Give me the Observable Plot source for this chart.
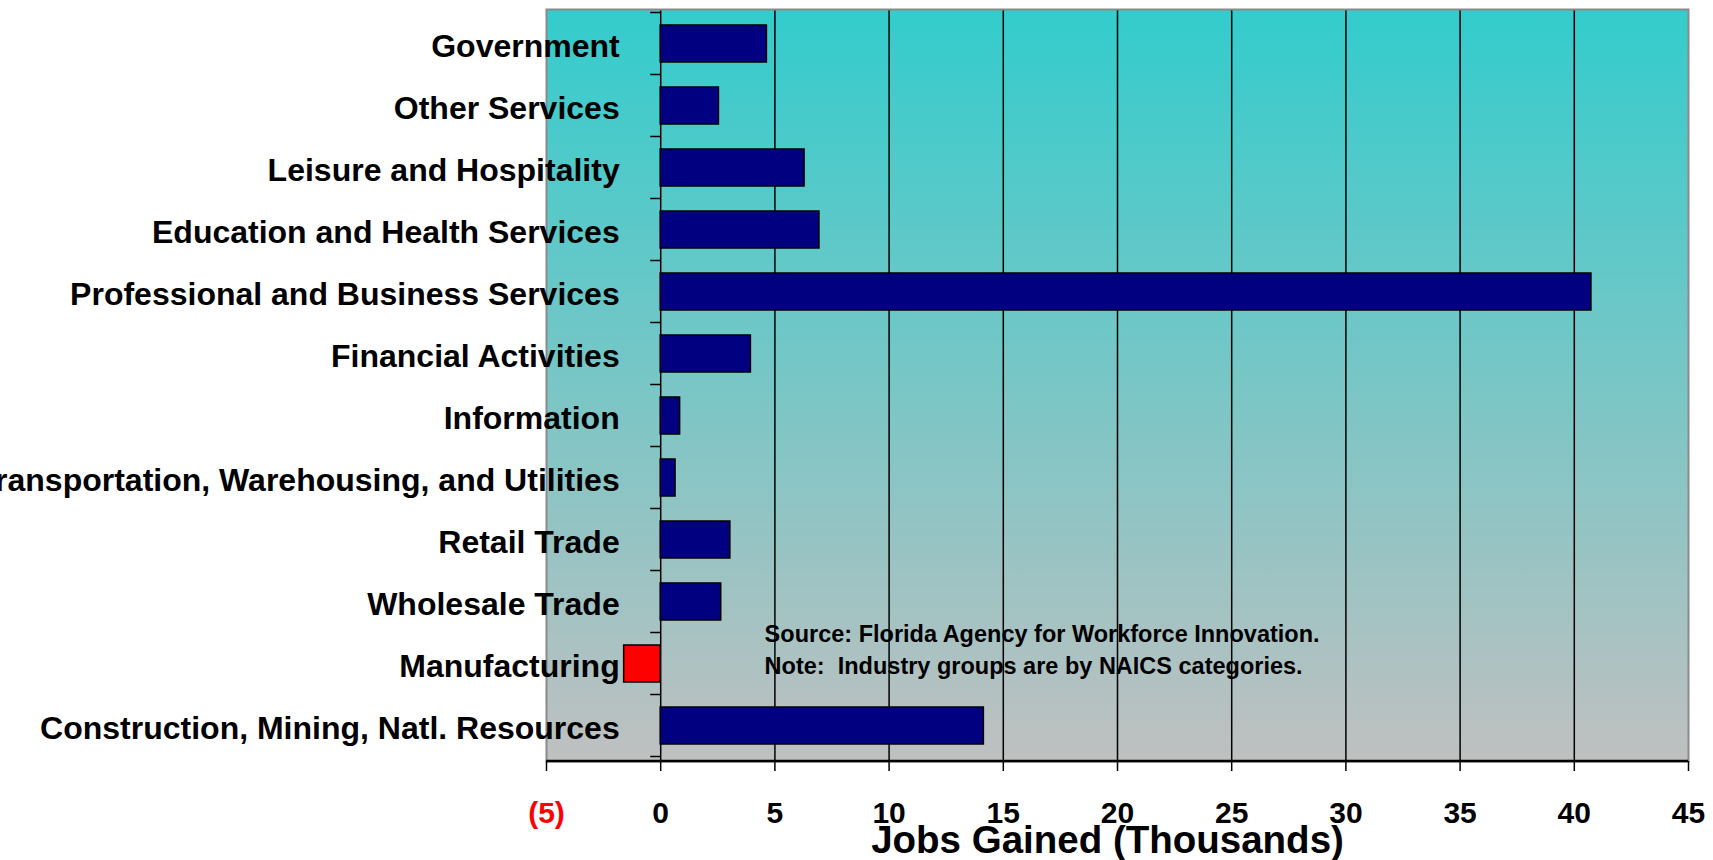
<!DOCTYPE html>
<html><head><meta charset="utf-8">
<script src="https://cdn.jsdelivr.net/npm/d3@7"></script>
<script src="https://cdn.jsdelivr.net/npm/@observablehq/plot@0.6"></script>
<style>body{margin:0;background:#fff;overflow:hidden} #chart svg{overflow:hidden}</style>
</head><body><div id="chart"></div>
<script>
const categories = ["Government","Other Services","Leisure and Hospitality","Education and Health Services","Professional and Business Services","Financial Activities","Information","Transportation, Warehousing, and Utilities","Retail Trade","Wholesale Trade","Manufacturing","Construction, Mining, Natl. Resources"];
const jobsGained = [4.65, 2.55, 6.3, 6.95, 40.75, 3.95, 0.85, 0.65, 3.05, 2.65, -1.6, 14.15];
const xTicks = [-5, 0, 5, 10, 15, 20, 25, 30, 35, 40, 45];
const gridValues = [5, 10, 15, 20, 25, 30, 35, 40];
const xLabel = "Jobs Gained (Thousands)";
const notes = ["Source: Florida Agency for Workforce Innovation.", "Note:  Industry groups are by NAICS categories."];
const noteAt = {x: 4.55, category: "Manufacturing"};

const data = categories.map((c, i) => ({category: c, value: jobsGained[i]}));

function num(v) { return typeof v === "function" ? v() : v; }

function boundaryTicks(index, scales, values, dimensions) {
  const y = scales.y, x = scales.x;
  const bw = num(y.bandwidth);
  const step = num(y.step);
  const gap = (step - bw) / 2;
  const g = d3.create("svg:g");
  const x0 = x(0);
  const ys = categories.map(c => y(c) - gap);
  ys.push(y(categories[categories.length - 1]) + bw + gap);
  g.selectAll("line").data(ys).join("line")
    .attr("x1", x0 - 10).attr("x2", x0)
    .attr("y1", d => d).attr("y2", d => d)
    .attr("stroke", "black").attr("stroke-width", 1.5);
  const yb = dimensions.height - dimensions.marginBottom;
  g.append("line")
    .attr("x1", x(xTicks[0])).attr("x2", x(xTicks[xTicks.length - 1]))
    .attr("y1", yb).attr("y2", yb)
    .attr("stroke", "black").attr("stroke-width", 2.5);
  return g.node();
}

const font = "'Liberation Sans', Arial, Helvetica, sans-serif";

const plot = Plot.plot({
  width: 1713, height: 860,
  marginLeft: 546, marginRight: 25, marginTop: 9, marginBottom: 99,
  style: {fontFamily: font, fontWeight: "bold", background: "white", overflow: "hidden"},
  x: {domain: [xTicks[0], xTicks[xTicks.length - 1]]},
  y: {domain: categories, paddingInner: 0.4, paddingOuter: 0.2, axis: null},
  marks: [
    Plot.frame({fill: "url(#bgGrad)"}),
    Plot.ruleX(gridValues, {stroke: "black", strokeWidth: 1.5}),
    Plot.ruleX([0], {stroke: "black", strokeWidth: 1.5}),
    Plot.barX(data, {x: "value", y: "category", fill: d => d.value < 0 ? "#FF0000" : "#000080", stroke: "black", strokeWidth: 1.5}),
    Plot.frame({stroke: "#8a8a8a", strokeWidth: 2}),
    boundaryTicks,
    Plot.axisX(xTicks.filter(v => v >= 0), {tickSize: 10, tickPadding: 30, fontSize: 30, fontWeight: "bold", stroke: "black", strokeWidth: 1.5, fill: "black", label: null, tickFormat: d => String(d)}),
    Plot.axisX(xTicks.filter(v => v < 0), {tickSize: 10, tickPadding: 30, fontSize: 30, fontWeight: "bold", stroke: "black", strokeWidth: 1.5, fill: "#FF0000", label: null, tickFormat: d => "(" + Math.abs(d) + ")"}),
    Plot.text([xLabel], {frameAnchor: "bottom", lineAnchor: "middle", dy: 79, dx: -10, fontSize: 38.5, fontWeight: "bold", fill: "black"}),
    Plot.text(data, {x: 0, y: "category", text: "category", textAnchor: "end", dx: -41, dy: 3, fontSize: 32, fontWeight: "bold", fill: "black"}),
    Plot.text([noteAt], {x: "x", y: "category", text: () => notes.join("\n"), textAnchor: "start", lineAnchor: "middle", dy: -16, lineHeight: 1.36, fontSize: 23.5, fontWeight: "bold", fill: "black"})
  ]
});

const svg = d3.select(plot.tagName.toLowerCase() === "svg" ? plot : plot.querySelector("svg"));
const defs = svg.insert("defs", ":first-child");
const grad = defs.append("linearGradient").attr("id", "bgGrad").attr("x1", 0).attr("y1", 0).attr("x2", 0).attr("y2", 1);
grad.append("stop").attr("offset", "0%").attr("stop-color", "#33CCCC");
grad.append("stop").attr("offset", "100%").attr("stop-color", "#C0C0C0");

document.getElementById("chart").appendChild(plot);
</script>
</body></html>
